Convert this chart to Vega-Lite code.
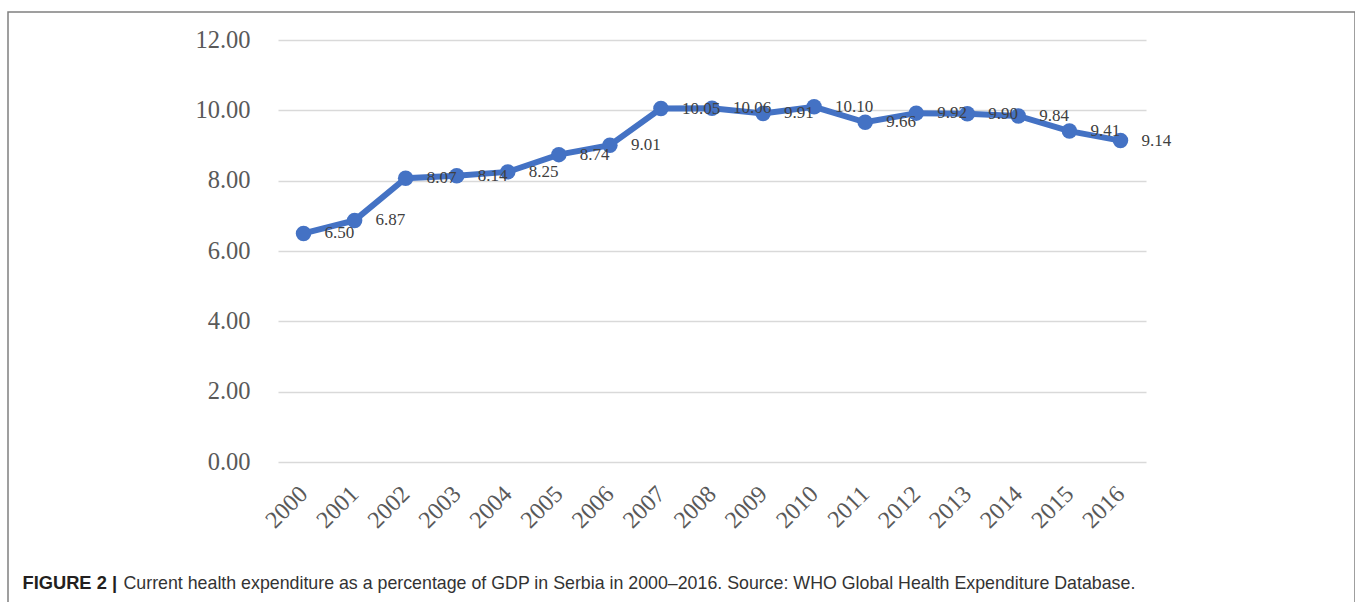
{
  "$schema": "https://vega.github.io/schema/vega-lite/v6.json",
  "autosize": {"type": "none"},
  "padding": {"left": 8, "top": 12, "right": 0, "bottom": 0},
  "width": 1347,
  "height": 600,
  "background": "white",
  "config": {"view": {"stroke": "#808080", "strokeWidth": 1.5}},
  "data": {"values": [
    {"year": "2000", "value": 6.50},
    {"year": "2001", "value": 6.87},
    {"year": "2002", "value": 8.07},
    {"year": "2003", "value": 8.14},
    {"year": "2004", "value": 8.25},
    {"year": "2005", "value": 8.74},
    {"year": "2006", "value": 9.01},
    {"year": "2007", "value": 10.05},
    {"year": "2008", "value": 10.06},
    {"year": "2009", "value": 9.91},
    {"year": "2010", "value": 10.10},
    {"year": "2011", "value": 9.66},
    {"year": "2012", "value": 9.92},
    {"year": "2013", "value": 9.90},
    {"year": "2014", "value": 9.84},
    {"year": "2015", "value": 9.41},
    {"year": "2016", "value": 9.14}
  ]},
  "encoding": {
    "x": {
      "field": "year", "type": "ordinal",
      "scale": {"type": "point", "range": [270, 1138], "padding": 0.5},
      "axis": {
        "title": "Current health expenditure as a percentage of GDP in Serbia in 2000–2016. Source: WHO Global Health Expenditure Database.",
        "labelAngle": -45, "labelAlign": "right", "labelBaseline": "middle",
        "labelPadding": -122, "tickSize": 0, "ticks": false, "domain": false, "grid": false,
        "labelFont": "Liberation Serif", "labelFontSize": 24, "labelColor": "#595959",
        "titleX": 115, "titleY": -24, "titleAlign": "left", "titleBaseline": "alphabetic",
        "titleFont": "Liberation Sans", "titleFontSize": 17.8, "titleFontWeight": "normal", "titleColor": "#333333"
      }
    },
    "y": {
      "field": "value", "type": "quantitative",
      "scale": {"domain": [0, 12], "range": [450, 28], "nice": false, "zero": true},
      "axis": {
        "title": "FIGURE 2 |",
        "values": [0, 2, 4, 6, 8, 10, 12], "format": ".2f",
        "labelPadding": -242, "tickSize": 0, "ticks": false, "domain": false,
        "grid": true, "gridColor": "#d9d9d9", "gridWidth": 1.5,
        "labelFont": "Liberation Serif", "labelFontSize": 24.5, "labelColor": "#595959",
        "labelAlign": "right", "labelBaseline": "middle",
        "titleAngle": 0, "titleX": 14, "titleY": 576, "titleAlign": "left", "titleBaseline": "alphabetic",
        "titleFont": "Liberation Sans", "titleFontSize": 18.3, "titleFontWeight": "bold", "titleColor": "#231f20"
      }
    }
  },
  "layer": [
    {"mark": {"type": "line", "color": "#4472C4", "strokeWidth": 6}},
    {"mark": {"type": "point", "filled": true, "opacity": 1, "color": "#4472C4", "size": 240}},
    {
      "mark": {"type": "text", "align": "left", "baseline": "middle", "dx": 21, "font": "Liberation Serif", "fontSize": 17, "color": "#404040"},
      "encoding": {"text": {"field": "value", "type": "quantitative", "format": ".2f"}}
    }
  ]
}
